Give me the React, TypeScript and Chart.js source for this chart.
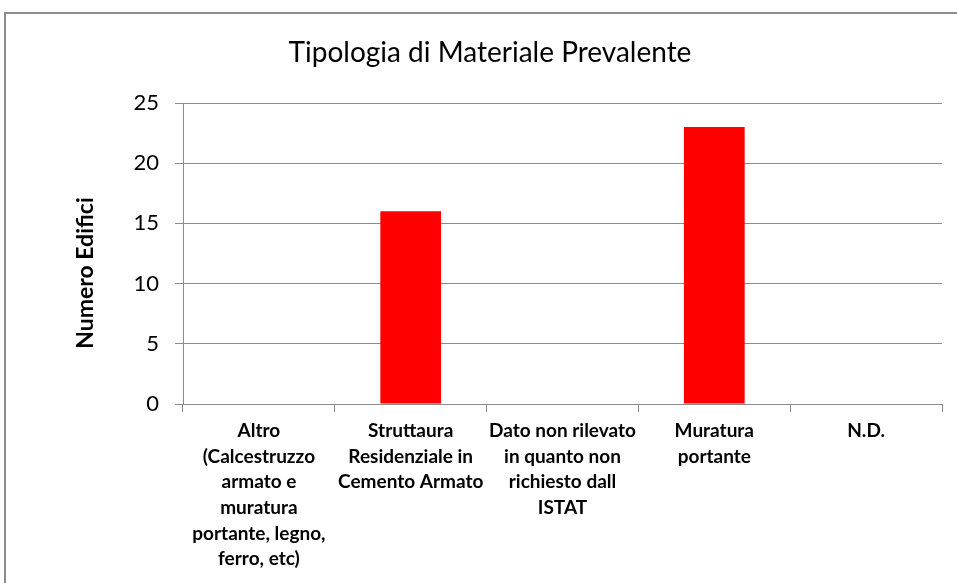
import React, { useEffect, useRef } from "react";
import { Chart, registerables } from "chart.js";

Chart.register(...registerables);

const chartTitle = "Tipologia di Materiale Prevalente";
const yAxisTitle = "Numero Edifici";
const categories: string[][] = [
  ["Altro", "(Calcestruzzo", "armato e", "muratura", "portante, legno,", "ferro, etc)"],
  ["Struttaura", "Residenziale in", "Cemento Armato"],
  ["Dato non rilevato", "in quanto non", "richiesto dall", "ISTAT"],
  ["Muratura", "portante"],
  ["N.D."],
];
const values = [0, 16, 0, 23, 0];
const yMin = 0;
const yMax = 25;
const yStep = 5;

const FONT = "Lato, 'Open Sans', sans-serif";

const textPlugin = {
  id: "textPlugin",
  afterDraw(chart: any) {
    const ctx = chart.ctx;
    ctx.save();
    ctx.fillStyle = "#000";
    ctx.textAlign = "center";
    ctx.textBaseline = "middle";
    ctx.font = `28px ${FONT}`;
    ctx.fillText(chartTitle, 490, 53);
    ctx.translate(86, 273);
    ctx.rotate(-Math.PI / 2);
    ctx.font = `bold 23px ${FONT}`;
    ctx.fillText(yAxisTitle, 0, 0);
    ctx.restore();
  },
};

export default function App() {
  const ref = useRef<HTMLCanvasElement | null>(null);
  useEffect(() => {
    if (!ref.current) return;
    const chart = new Chart(ref.current, {
      type: "bar",
      data: {
        labels: categories,
        datasets: [
          {
            data: values,
            backgroundColor: "#ff0000",
            borderWidth: 0,
            barPercentage: 0.4,
            categoryPercentage: 1,
          },
        ],
      },
      plugins: [textPlugin],
      options: {
        responsive: false,
        animation: false,
        devicePixelRatio: 1,
        layout: { padding: { left: 0, right: 15, top: 103, bottom: 0 } },
        plugins: {
          legend: { display: false },
          title: { display: false },
          tooltip: { enabled: false },
        },
        scales: {
          x: {
            afterFit: (s: any) => {
              s.height = 179;
            },
            grid: {
              offset: true,
              drawOnChartArea: false,
              drawTicks: true,
              tickLength: 8,
              color: "#8c8c8c",
            },
            border: { color: "#8c8c8c", width: 1 },
            ticks: {
              color: "#000",
              padding: 6,
              maxRotation: 0,
              autoSkip: false,
              font: { family: FONT, size: 19, weight: "bold", lineHeight: 1.35 },
            },
          },
          y: {
            min: yMin,
            max: yMax,
            afterFit: (s: any) => {
              s.width = 183;
            },
            grid: { color: "#8c8c8c", tickLength: 8, drawTicks: true },
            border: { color: "#8c8c8c", width: 1 },
            ticks: {
              stepSize: yStep,
              color: "#000",
              padding: 16,
              font: { family: FONT, size: 22 },
            },
          },
        },
      },
    });
    return () => chart.destroy();
  }, []);
  return (
    <div
      style={{
        position: "absolute",
        left: 0,
        top: 0,
        width: 957,
        height: 583,
        overflow: "hidden",
        background: "#fff",
      }}
    >
      <div
        style={{
          position: "absolute",
          left: 4,
          top: 12,
          width: 1100,
          height: 800,
          border: "2px solid #8c8c8c",
        }}
      />
      <canvas ref={ref} width={957} height={583} style={{ position: "absolute", left: 0, top: 0 }} />
    </div>
  );
}
